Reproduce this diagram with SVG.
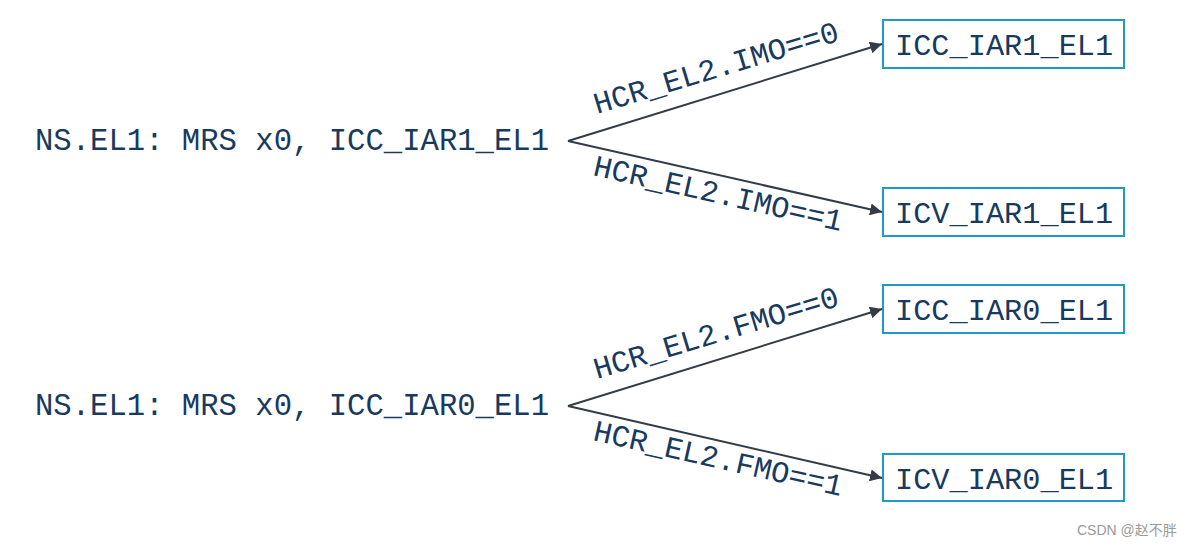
<svg xmlns="http://www.w3.org/2000/svg" width="1190" height="547" viewBox="0 0 1190 547">
<style>
.t{font-family:"Liberation Mono","Courier New",monospace;font-size:30.3px;fill:#173a5e}
.l{font-size:30.6px}
.box{fill:#fff;stroke:#1f9ac6;stroke-width:2}
.c{stroke:#333c46;stroke-width:2;fill:none;marker-end:url(#ah)}
.wm{font-family:"Liberation Sans","Noto Sans CJK SC",sans-serif;font-size:14px;fill:#9a9a9a}
</style>
<defs>
<marker id="ah" viewBox="0 0 10 10" refX="10" refY="5" markerWidth="6" markerHeight="6" markerUnits="strokeWidth" orient="auto">
<path d="M0,0 L10,5 L0,10 z" fill="#333c46"/>
</marker>
</defs>
<rect width="1190" height="547" fill="#fff"/>
<g id="src1"><text class="t l" x="35" y="150">NS.EL1: MRS x0, ICC_IAR1_EL1</text></g>
<g id="src0"><text class="t l" x="35" y="415">NS.EL1: MRS x0, ICC_IAR0_EL1</text></g>
<g id="icc1"><rect class="box" x="883" y="20" width="241" height="48"/><text class="t" x="895" y="55">ICC_IAR1_EL1</text></g>
<g id="icv1"><rect class="box" x="883" y="188" width="241" height="48"/><text class="t" x="895" y="223">ICV_IAR1_EL1</text></g>
<g id="icc0"><rect class="box" x="883" y="285" width="241" height="48"/><text class="t" x="895" y="320">ICC_IAR0_EL1</text></g>
<g id="icv0"><rect class="box" x="883" y="454" width="241" height="47"/><text class="t" x="895" y="489">ICV_IAR0_EL1</text></g>
<g id="connectors">
<line class="c" x1="568" y1="141" x2="882" y2="44"/>
<line class="c" x1="568" y1="141" x2="882" y2="212"/>
<line class="c" x1="568" y1="406" x2="882" y2="309"/>
<line class="c" x1="568" y1="406" x2="882" y2="478"/>
<text class="t" transform="translate(597,114) rotate(-16.8)">HCR_EL2.IMO==0</text>
<text class="t" transform="translate(592,175) rotate(12.7)">HCR_EL2.IMO==1</text>
<text class="t" transform="translate(597,379) rotate(-16.8)">HCR_EL2.FMO==0</text>
<text class="t" transform="translate(592,440) rotate(12.7)">HCR_EL2.FMO==1</text>
</g>
<text class="wm" x="1077" y="535">CSDN @赵不胖</text>
</svg>
